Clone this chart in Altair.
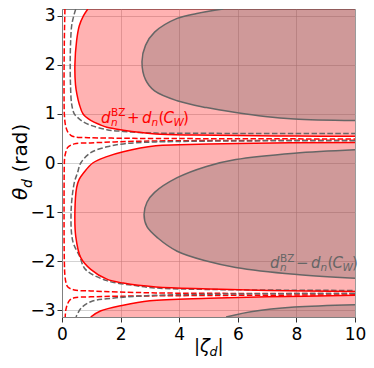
import altair as alt
import pandas as pd

PI = 3.14159
X_TICKS = [0, 2, 4, 6, 8, 10]
Y_TICKS = [-3, -2, -1, 0, 1, 2, 3]

# ---- boundary of d_n^BZ + d_n(C_W) (red solid) ----
rs_top_t = [0.545, 0.55, 0.56, 0.57, 0.59, 0.62, 0.67, 0.73, 0.78, 0.87, 1.0, 1.2, 1.4, 1.6, 2.0, 2.5, 2.8, 3.0, 3.1416]
rs_top_x = [10.0, 8.0, 6.0, 4.5, 3.2, 2.7, 2.09, 1.53, 1.3, 0.98, 0.72, 0.59, 0.51, 0.46, 0.44, 0.50, 0.59, 0.73, 0.88]
rs_mid_t = [-2.62, -2.60, -2.57, -2.53, -2.45, -2.37, -2.17, -1.93, -1.5, -1.0, -0.5, -0.33, -0.2, 0.0, 0.13, 0.23, 0.35, 0.37, 0.40, 0.42]
rs_mid_x = [10.0, 7.0, 5.0, 3.2, 2.09, 1.53, 0.98, 0.64, 0.47, 0.44, 0.5, 0.59, 0.74, 1.05, 1.53, 2.09, 3.2, 4.0, 6.0, 10.0]
rs_bot_t = [-3.1416, -3.02, -2.9, -2.81, -2.76, -2.73, -2.70]
rs_bot_x = [0.98, 1.31, 2.09, 3.0, 5.0, 7.0, 10.0]

# ---- red dashed ----
rd_top_t = [3.1416, 2.5, 1.5, 1.0, 0.8, 0.7, 0.63, 0.565, 0.535, 0.52, 0.515, 0.505, 0.50, 0.495, 0.49]
rd_top_x = [0.10, 0.08, 0.07, 0.08, 0.11, 0.15, 0.2, 0.3, 0.42, 0.7, 0.98, 2.09, 3.2, 6.0, 10.0]
rd_mid_t = [0.465, 0.45, 0.43, 0.41, 0.39, 0.32, 0.2, 0.1, 0.0, -1.0, -2.0, -2.3, -2.45, -2.53, -2.59, -2.61, -2.65, -2.66]
rd_mid_x = [10.0, 3.2, 1.8, 0.98, 0.42, 0.2, 0.12, 0.09, 0.08, 0.07, 0.08, 0.1, 0.14, 0.2, 0.42, 0.98, 3.2, 10.0]
rd_bot_t = [-2.69, -2.71, -2.73, -2.75, -2.8, -2.97, -3.1416]
rd_bot_x = [10.0, 3.2, 0.98, 0.42, 0.26, 0.14, 0.11]

# ---- gray dashed ----
gd_top_t = [3.1416, 3.0, 2.8, 2.4, 2.0, 1.6, 1.2, 1.0, 0.93, 0.85, 0.77, 0.68, 0.645, 0.62, 0.61, 0.605, 0.60]
gd_top_x = [0.47, 0.40, 0.33, 0.29, 0.28, 0.29, 0.33, 0.42, 0.53, 0.7, 0.98, 1.53, 2.09, 2.64, 3.2, 5.0, 10.0]
gd_mid_t = [0.455, 0.43, 0.39, 0.33, 0.21, 0.0, -0.2, -0.4, -1.0, -1.6, -1.9, -2.17, -2.4, -2.5, -2.55, -2.58, -2.60]
gd_mid_x = [10.0, 3.2, 2.09, 1.53, 0.98, 0.64, 0.53, 0.42, 0.31, 0.37, 0.6, 0.8, 1.53, 2.5, 3.2, 5.0, 10.0]
gd_bot_t = [-2.66, -2.70, -2.77, -2.83, -2.97, -3.1416]
gd_bot_x = [10.0, 3.2, 1.53, 0.98, 0.64, 0.48]

# ---- boundary of d_n^BZ - d_n(C_W) (gray solid) ----
gs_top_t = [0.865, 0.9, 0.95, 1.03, 1.13, 1.27, 1.47, 1.7, 2.07, 2.4, 2.67, 2.95, 3.05, 3.1416]
gs_top_x = [10.0, 7.93, 6.93, 5.93, 4.93, 3.93, 3.16, 2.85, 2.73, 2.85, 3.16, 3.93, 4.6, 5.5]
gs_mid_t = [-2.35, -2.27, -2.13, -2.0, -1.8, -1.53, -1.3, -1.05, -0.8, -0.6, -0.3, -0.07, 0.07, 0.2, 0.27]
gs_mid_x = [10.0, 7.93, 5.93, 4.93, 3.93, 3.27, 2.9, 2.8, 2.9, 3.16, 3.93, 4.93, 5.93, 7.93, 10.0]
gs_bot_t = [-3.1416, -3.03, -2.94, -2.89]
gs_bot_x = [5.6, 6.5, 7.93, 10.0]

# annotation anchors (data coords)
ann_plus_pos = (1.33, 0.82)
ann_minus_pos = (7.1, -2.146)

RED = "#ff0000"
GRAY = "#666666"
FONT = "DejaVu Sans"
W, H = 293, 308

xs = alt.Scale(domain=[0, 10], nice=False, zero=False)
ys = alt.Scale(domain=[-PI, PI], nice=False, zero=False)


def cdf(name, xv, tv, sort=False):
    d = pd.DataFrame({"curve": name, "x": xv, "t": tv, "xr": 10.0})
    if sort:
        d = d.sort_values("t")
    d["i"] = range(len(d))
    return d


axis_common = dict(title=None, labelFontSize=17, labelFont=FONT, labelColor="black",
                   tickColor="#333333", tickSize=5, tickWidth=1, grid=True,
                   gridColor="#b0b0b0", gridWidth=0.8, gridOpacity=0.7,
                   domainColor="#808080", format="d", labelFlush=False)
xaxis = alt.Axis(values=X_TICKS, labelPadding=4, **axis_common)
yaxis = alt.Axis(values=Y_TICKS, labelPadding=2, **axis_common)

pink = pd.concat([cdf("a", rs_top_x, rs_top_t, True), cdf("b", rs_mid_x, rs_mid_t, True),
                  cdf("c", rs_bot_x, rs_bot_t, True)])
grayf = pd.concat([cdf("a", gs_top_x, gs_top_t, True), cdf("b", gs_mid_x, gs_mid_t, True),
                   cdf("c", gs_bot_x, gs_bot_t, True)])

area_pink = alt.Chart(pink).mark_area(orient="horizontal", interpolate="catmull-rom",
                                      color=RED, opacity=0.3, clip=True).encode(
    y=alt.Y("t:Q", scale=ys, axis=yaxis),
    x=alt.X("x:Q", scale=xs, axis=xaxis),
    x2="xr:Q", detail="curve:N")
area_gray = alt.Chart(grayf).mark_area(orient="horizontal", interpolate="catmull-rom",
                                       color="#606060", opacity=0.3, clip=True).encode(
    y=alt.Y("t:Q", scale=ys), x=alt.X("x:Q", scale=xs), x2="xr:Q", detail="curve:N")


def lines(df, color, dash):
    kw = dict(interpolate="catmull-rom", color=color, strokeWidth=1.5, clip=True)
    if dash:
        kw["strokeDash"] = [5.5, 2.4]
    return alt.Chart(df).mark_line(**kw).encode(
        x=alt.X("x:Q", scale=xs), y=alt.Y("t:Q", scale=ys),
        order="i:Q", detail="curve:N")


rd = pd.concat([cdf("a", rd_top_x, rd_top_t), cdf("b", rd_mid_x, rd_mid_t), cdf("c", rd_bot_x, rd_bot_t)])
gd = pd.concat([cdf("a", gd_top_x, gd_top_t), cdf("b", gd_mid_x, gd_mid_t), cdf("c", gd_bot_x, gd_bot_t)])
rs = pd.concat([cdf("a", rs_top_x, rs_top_t), cdf("b", rs_mid_x, rs_mid_t), cdf("c", rs_bot_x, rs_bot_t)])
gs = pd.concat([cdf("a", gs_top_x, gs_top_t), cdf("b", gs_mid_x, gs_mid_t), cdf("c", gs_bot_x, gs_bot_t)])


def math_label(pos, pieces, color):
    base = alt.Chart(pd.DataFrame({"x": [pos[0]], "t": [pos[1]]}))
    out = []
    for txt, dx, dy, fs, st in pieces:
        out.append(base.mark_text(text=txt, dx=dx, dy=dy, fontSize=fs, fontStyle=st, font=FONT,
                                  align="left", baseline="alphabetic", color=color).encode(
            x=alt.X("x:Q", scale=xs), y=alt.Y("t:Q", scale=ys)))
    return out


def pieces_for(op):
    return [("d", 0, 0, 15, "italic"), ("BZ", 10, -6.5, 10.5, "normal"), ("n", 10, 3, 10.5, "italic"),
            (op, 26, 0, 15, "normal"), ("d", 41, 0, 15, "italic"), ("n", 50.5, 3, 10.5, "italic"),
            ("(", 57.5, 0, 15, "normal"), ("C", 62.5, 0, 15, "italic"), ("W", 72.5, 3, 10.5, "italic"),
            (")", 82, 0, 15, "normal")]


def pixel_text(px, py, pieces, angle=0):
    base = alt.Chart(pd.DataFrame({"k": [0]}))
    out = []
    for txt, dx, dy, fs, st in pieces:
        out.append(base.mark_text(text=txt, dx=dx, dy=dy, fontSize=fs, fontStyle=st, font=FONT,
                                  align="left", baseline="alphabetic", color="black", angle=angle).encode(
            x=alt.value(px), y=alt.value(py)))
    return out


xtitle = pixel_text(132, 343, [("|", 0, 0, 18, "normal"), ("ζ", 6, 0, 18, "italic"),
                               ("d", 15.5, 4, 12.6, "italic"), ("|", 23.5, 0, 18, "normal")])
ytitle = pixel_text(-35, 191, [("θ", 0, 0, 20, "italic"), ("d", 12, 4.5, 14, "italic"),
                               ("(rad)", 27.5, 0, 20, "normal")], angle=270)

layers = [area_pink, area_gray,
          lines(rd, RED, True), lines(gd, GRAY, True),
          lines(rs, RED, False), lines(gs, GRAY, False)]
layers += math_label(ann_plus_pos, pieces_for("+"), RED)
layers += math_label(ann_minus_pos, pieces_for("−"), GRAY)
layers += xtitle + ytitle

chart = alt.layer(*layers).properties(
    width=W, height=H,
    autosize=alt.AutoSizeParams(type="none"),
    padding={"left": 54, "top": 1, "right": 11, "bottom": 43},
).configure_view(stroke="#808080", strokeWidth=1)

chart.save("out.html", embed_options={"renderer": "svg", "actions": False})
